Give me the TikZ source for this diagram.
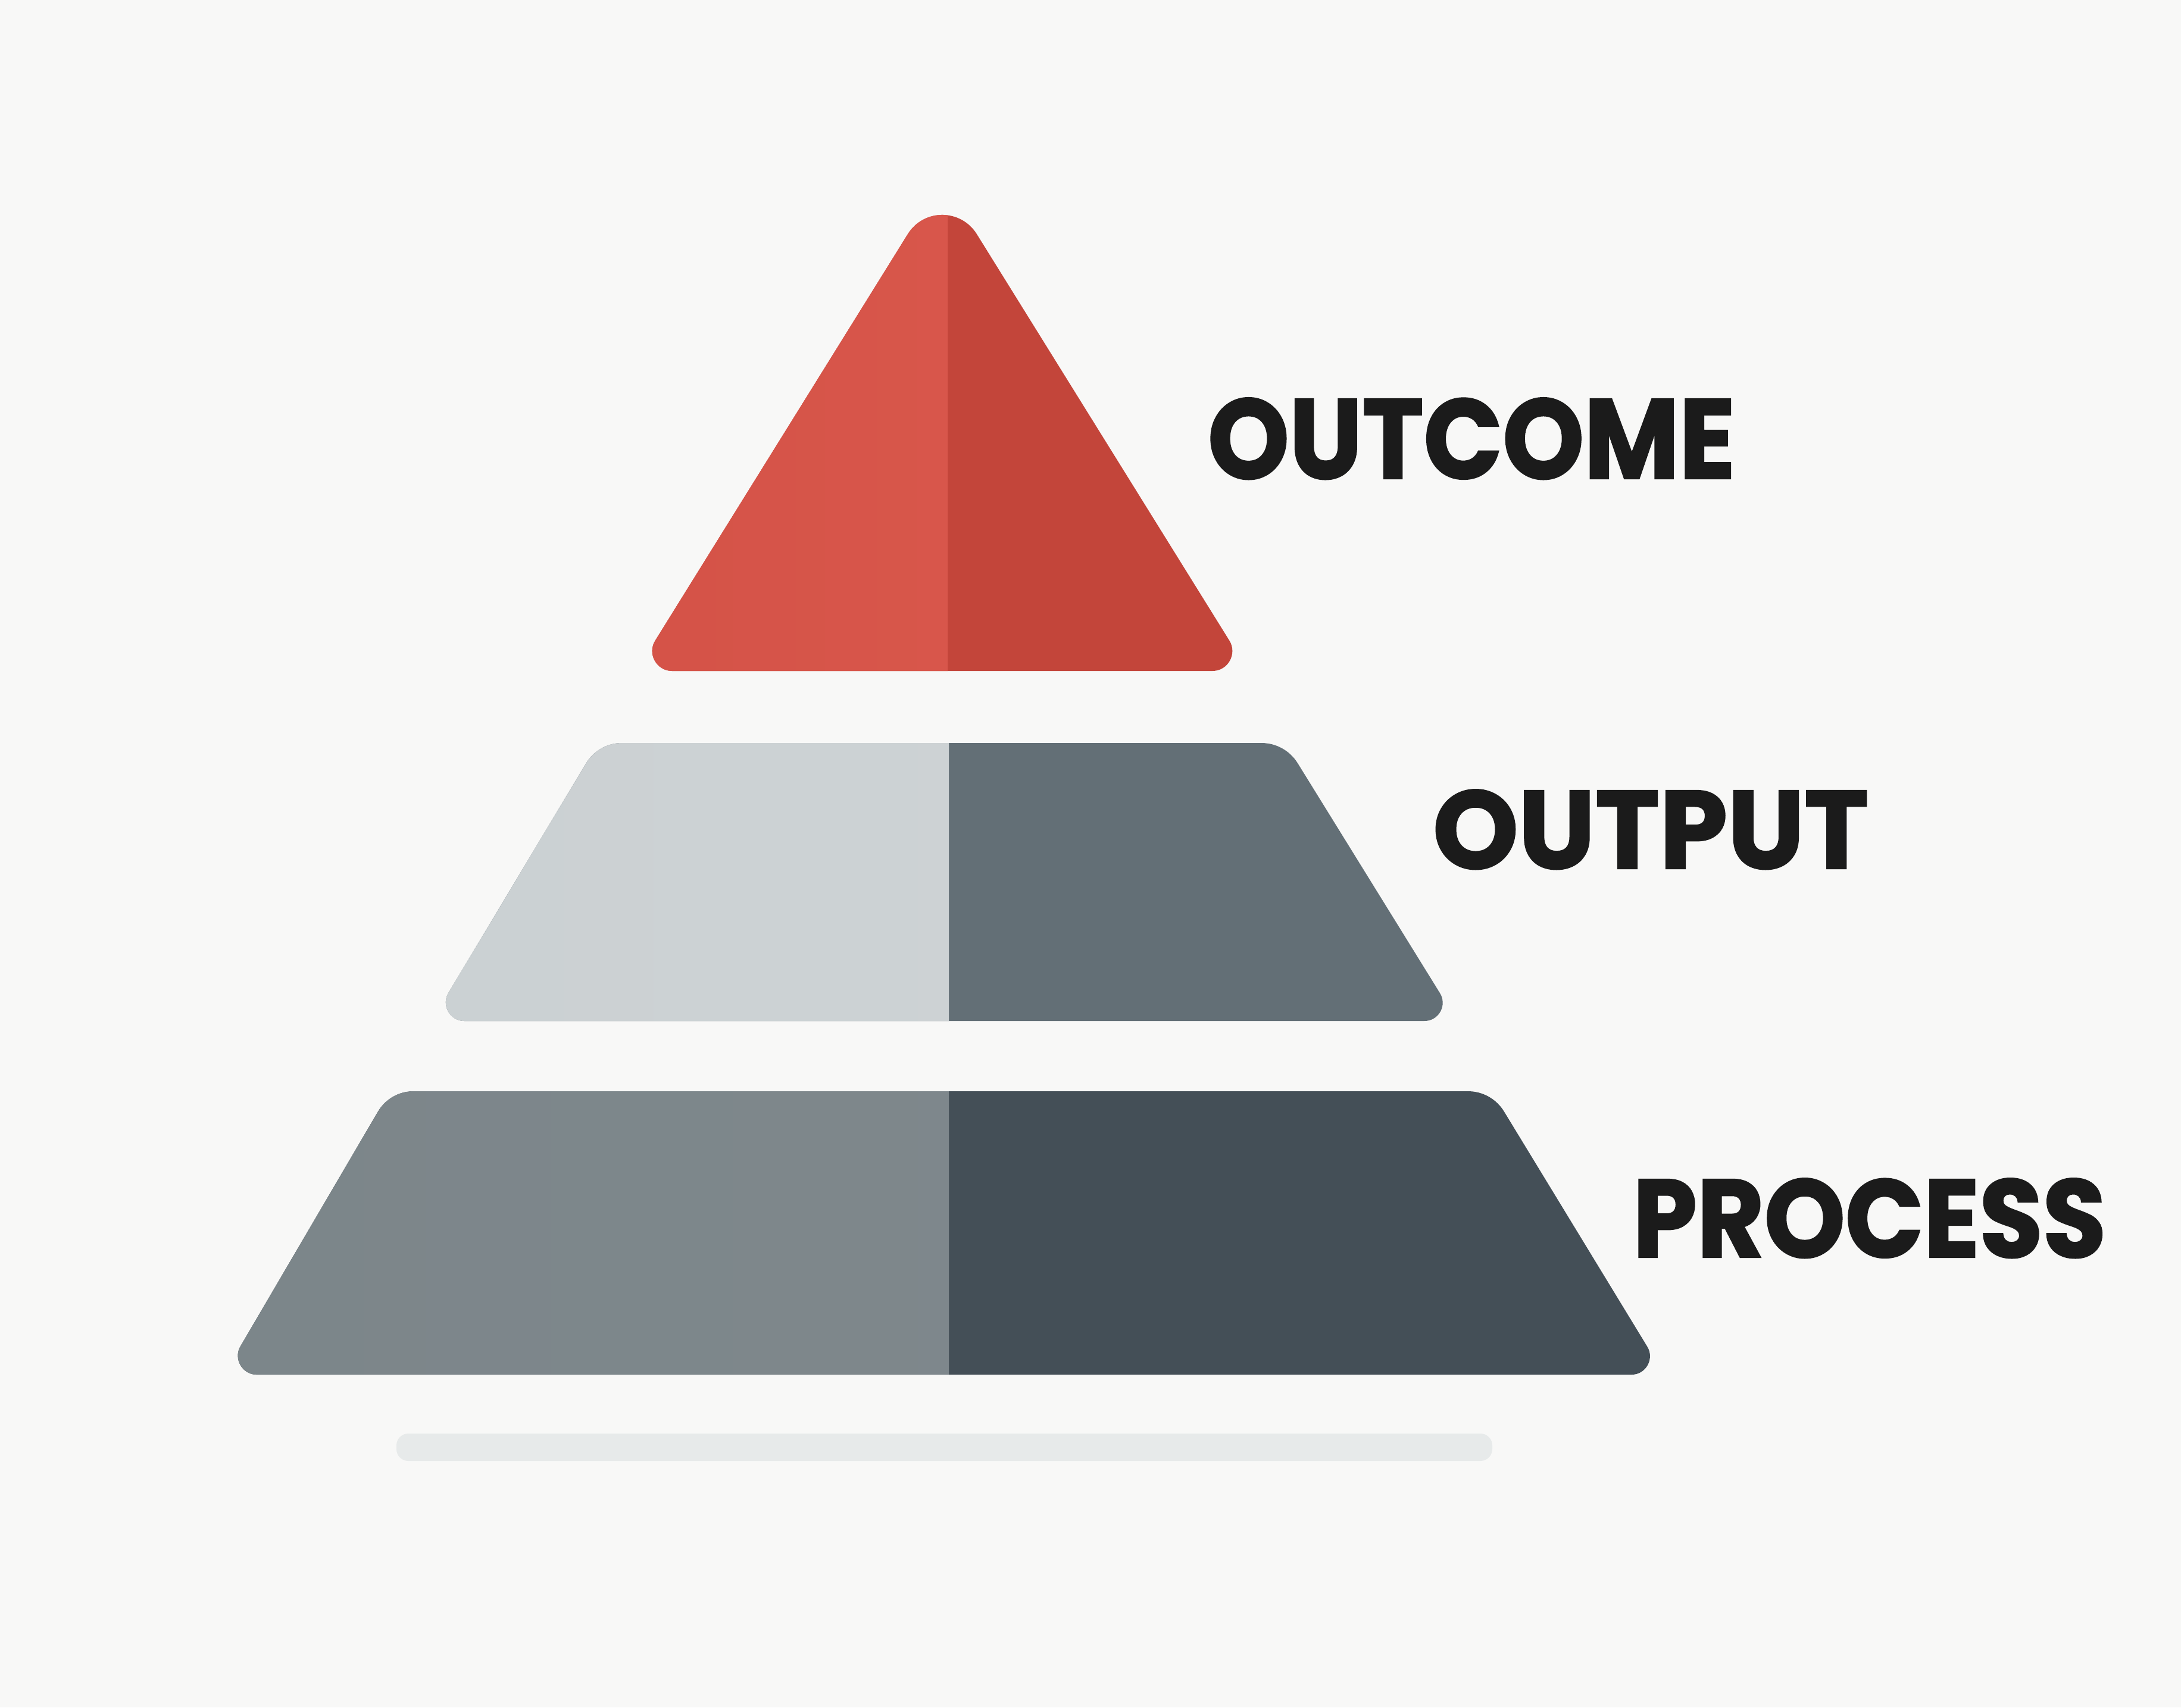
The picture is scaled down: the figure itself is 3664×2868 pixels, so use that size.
\documentclass[tikz,border=0pt]{standalone}
\usepackage{fontspec}
\usepackage{graphicx}
\usetikzlibrary{calc}
\newfontfamily\handfont{Poppins}[BoldFeatures={FakeBold=1.6}]
\definecolor{bgc}{HTML}{F8F8F7}
\definecolor{redLa}{HTML}{D45247}
\definecolor{redLb}{HTML}{DB5A4E}
\definecolor{redR}{HTML}{C3453A}
\definecolor{midLa}{HTML}{CBD1D3}
\definecolor{midLb}{HTML}{CED3D5}
\definecolor{midR}{HTML}{636F76}
\definecolor{botLa}{HTML}{7C868A}
\definecolor{botLb}{HTML}{80888D}
\definecolor{botR}{HTML}{444F57}
\definecolor{barc}{HTML}{E7EAEA}
\definecolor{ink}{HTML}{1B1B1B}
\newcommand\trapShape[4]{($(#1)!40pt!(#2)$) -- ($(#2)!40pt!(#1)$) .. controls ($(#2)!15pt!(#1)$) and ($(#2)!15pt!(#3)$) .. ($(#2)!40pt!(#3)$) -- ($(#3)!55pt!(#2)$) .. controls ($(#3)!31pt!(#2)$) and ($(#3)!31pt!(#4)$) .. ($(#3)!55pt!(#4)$) -- ($(#4)!55pt!(#3)$) .. controls ($(#4)!31pt!(#3)$) and ($(#4)!31pt!(#1)$) .. ($(#4)!55pt!(#1)$) -- ($(#1)!40pt!(#4)$) .. controls ($(#1)!15pt!(#4)$) and ($(#1)!15pt!(#2)$) .. ($(#1)!40pt!(#2)$) -- cycle}
\newcommand\triShape{($(tA)!110pt!(tL)$) -- ($(tL)!60pt!(tA)$) .. controls ($(tL)!34pt!(tA)$) and ($(tL)!34pt!(tR)$) .. ($(tL)!60pt!(tR)$) -- ($(tR)!60pt!(tL)$) .. controls ($(tR)!34pt!(tL)$) and ($(tR)!34pt!(tA)$) .. ($(tR)!60pt!(tA)$) -- ($(tA)!110pt!(tR)$) .. controls ($(tA)!59pt!(tR)$) and ($(tA)!59pt!(tL)$) .. ($(tA)!110pt!(tL)$) -- cycle}
\begin{document}
\begin{tikzpicture}[x=1pt,y=-1pt,
  lbl/.style={inner sep=0pt, outer sep=0pt, anchor=south west, text=ink, font=\handfont\bfseries}]
\useasboundingbox (0,0) rectangle (3664,2868);
\fill[bgc] (0,0) rectangle (3664,2868);
% apex triangle
\coordinate (tA) at (1583,300);
\coordinate (tL) at (1069,1127);
\coordinate (tR) at (2097,1127);
\fill[redR, path picture={\shade[left color=redLa, right color=redLb] (1000,250) rectangle (1592,1200);}] \triShape;
% middle trapezoid
\coordinate (mTL) at (1005,1248);
\coordinate (mTR) at (2159,1248);
\coordinate (mBR) at (2448,1715);
\coordinate (mBL) at (725,1715);
\fill[midR, path picture={\shade[left color=midLa, right color=midLb] (650,1200) rectangle (1594,1760);}] \trapShape{mTL}{mTR}{mBR}{mBL};
% bottom trapezoid
\coordinate (bTL) at (655,1833);
\coordinate (bTR) at (2506,1833);
\coordinate (bBR) at (2796,2309);
\coordinate (bBL) at (376,2309);
\fill[botR, path picture={\shade[left color=botLa, right color=botLb] (300,1800) rectangle (1594,2350);}] \trapShape{bTL}{bTR}{bBR}{bBL};
% base bar
\fill[barc, rounded corners=20pt] (666,2408) rectangle (2507,2454);
% labels
\node[lbl] (outcome) at (2029,805) {\resizebox{886pt}{135pt}{OUTCOME}};
\node[lbl] (output) at (2407,1460) {\resizebox{732pt}{132pt}{OUTPUT}};
\node[lbl] (process) at (2743,2113) {\resizebox{795pt}{132pt}{PROCESS}};
\end{tikzpicture}
\end{document}
